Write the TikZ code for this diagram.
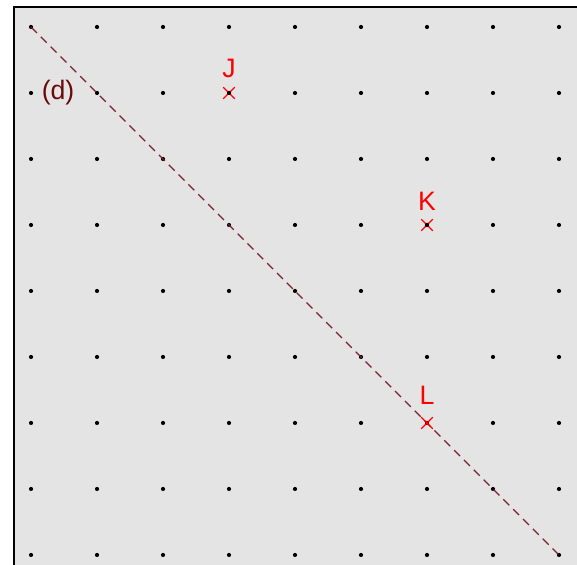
\documentclass[tikz,border=0pt]{standalone}
\usepackage{fontspec}
\setmainfont{Liberation Sans}
\usepackage{xcolor}
\usetikzlibrary{positioning, shapes.misc}

\definecolor{bggrey}{HTML}{E4E4E4}
\definecolor{linered}{HTML}{7A2030}
\definecolor{dred}{HTML}{6A0A0A}

\begin{document}
\begin{tikzpicture}[
          font=\fontsize{11.5}{13}\selectfont,
          griddot/.style={circle, fill=black, inner sep=0pt, minimum size=1.8pt},
          pointmark/.style={draw=red, cross out, line width=0.5pt, inner sep=0pt, minimum size=4.5pt},
          ptlabel/.style={text=red, inner sep=0pt},
          dline/.style={draw=linered, dash pattern=on 3.6pt off 2.4pt, line width=0.5pt}
        ]
          % frame
          \useasboundingbox (-0.470,-0.152) rectangle (8.273,8.409);
          \fill[bggrey] (-0.258,-0.152) rectangle (8.273,8.303);
          \draw[line width=0.7pt] (-0.258,-0.152) -- (-0.258,8.303) -- (8.273,8.303);
          % grid
          \foreach \i in {0,...,8}
            \foreach \j in {0,...,8}
              \node[griddot] (g-\i-\j) at (\i,\j) {};
          % line (d)
          \draw[dline] (g-0-8.center) -- (g-8-0.center);
          \node[text=dred, inner sep=0pt] (dlab) at (0.41,7) {(d)};
          % points
          \node[pointmark] (J) at (3,7) {};
          \node[pointmark] (K) at (6,5) {};
          \node[pointmark] (L) at (6,2) {};
          \node[griddot] at (J.center) {};
          \node[griddot] at (K.center) {};
          \node[ptlabel, above=0.13cm of J] (Jlab) {J};
          \node[ptlabel, above=0.12cm of K] (Klab) {K};
          \node[ptlabel, above=0.18cm of L] (Llab) {L};
        \end{tikzpicture}
\end{document}
